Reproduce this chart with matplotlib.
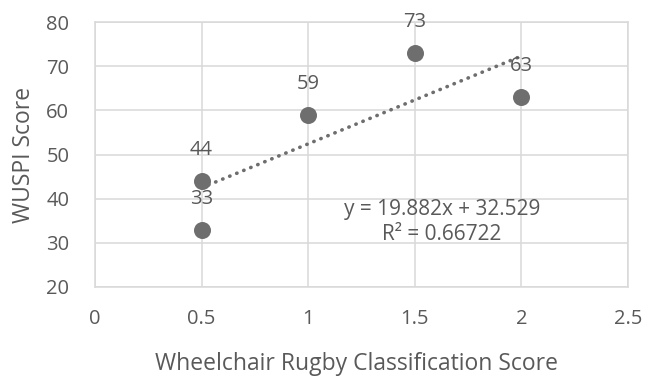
import matplotlib
matplotlib.use("Agg")
import matplotlib.pyplot as plt
import numpy as np

plt.rcParams['font.family'] = ['Open Sans', 'DejaVu Sans']

x_vals = [0.5, 0.5, 1.0, 1.5, 2.0]
y_vals = [44, 33, 59, 73, 63]
labels = ["44", "33", "59", "73", "63"]
slope = 19.882
intercept = 32.529
r2 = "0.66722"
xticks = [0, 0.5, 1, 1.5, 2, 2.5]
xtick_labels = ["0", "0.5", "1", "1.5", "2", "2.5"]
yticks = [20, 30, 40, 50, 60, 70, 80]

W, H = 653, 378
fig = plt.figure(figsize=(W / 100, H / 100), dpi=100)
ax = fig.add_axes([95 / W, 1 - 287 / H, (628 - 95) / W, (287 - 22) / H])

text_col = "#595959"
grid_col = "#d9d9d9"
pt_col = "#6e6e6e"

ax.set_xlim(0, 2.5)
ax.set_ylim(20, 80)
ax.set_xticks(xticks)
ax.set_xticklabels(xtick_labels)
ax.set_yticks(yticks)
ax.grid(True, color=grid_col, linewidth=1.1)
ax.set_axisbelow(True)
for s in ax.spines.values():
    s.set_color(grid_col)
    s.set_linewidth(1.1)
ax.tick_params(length=0, labelsize=14.5, colors=text_col)
ax.tick_params(axis='x', pad=16)
ax.tick_params(axis='y', pad=18.5)

# trendline
tx = np.array([min(x_vals), max(x_vals)])
ax.plot(tx, slope * tx + intercept, linestyle=(0, (0.1, 2.0)), color=pt_col,
        linewidth=2.6, dash_capstyle='round', zorder=2)

ax.scatter(x_vals, y_vals, s=150, color=pt_col, zorder=3, linewidths=0)

for xv, yv, lab in zip(x_vals, y_vals, labels):
    ax.annotate(lab, (xv, yv), xytext=(0, 18.5), textcoords='offset points',
                ha='center', va='baseline', fontsize=14.5, color=text_col, zorder=4)

ax.text(1.628, 30.7, f"y = {slope}x + {intercept}\nR² = {r2}",
        ha='center', va='baseline', fontsize=15, color=text_col,
        linespacing=1.25, zorder=4)

fig.text(24 / W, 1 - 155 / H, "WUSPI Score", rotation=90, ha='center', va='center',
         fontsize=16.5, color=text_col)
fig.text(357 / W, 1 - 364 / H, "Wheelchair Rugby Classification Score", ha='center',
         va='center', fontsize=16.5, color=text_col)

fig.savefig("out.png", dpi=100)
